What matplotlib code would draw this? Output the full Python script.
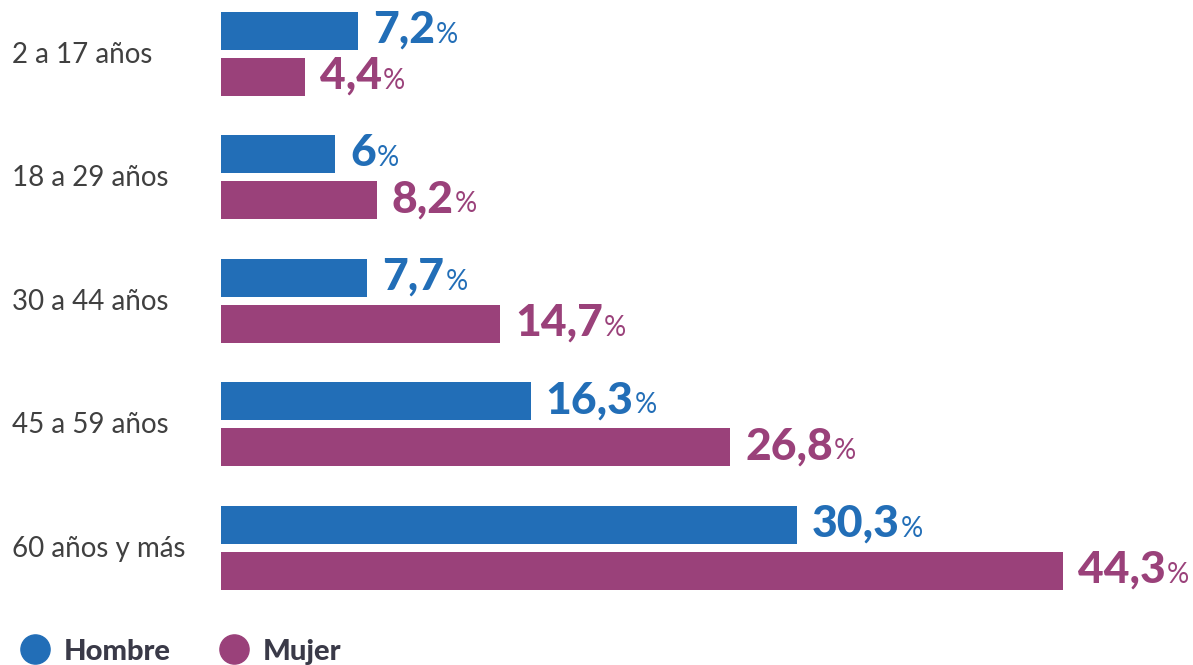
import numpy as np
import matplotlib
matplotlib.use('Agg')
import matplotlib.pyplot as plt
from matplotlib.lines import Line2D

plt.rcParams['font.family'] = ['Lato', 'DejaVu Sans']

# Datos: porcentaje por grupo de edad y sexo
grupos = ['2 a 17 años', '18 a 29 años', '30 a 44 años', '45 a 59 años', '60 años y más']
hombre = [7.2, 6.0, 7.7, 16.3, 30.3]
mujer = [4.4, 8.2, 14.7, 26.8, 44.3]
etiq_hombre = ['7,2', '6', '7,7', '16,3', '30,3']
etiq_mujer = ['4,4', '8,2', '14,7', '26,8', '44,3']

col_h = '#226eb7'
col_m = '#9a417a'
col_txt = '#404040'

fig = plt.figure(figsize=(11.93, 6.65), dpi=100)
ax = fig.add_axes([221 / 1193, 0, 1 - 221 / 1193, 1])
ax.set_xlim(0, 972 / 19.0)
ax.set_ylim((665 - 54) / 123.4, -54 / 123.4)
ax.axis('off')

y = np.arange(len(grupos))
off = 23 / 123.4
h = 38 / 123.4
ax.barh(y - off, hombre, height=h, color=col_h)
ax.barh(y + off, mujer, height=h, color=col_m)

renderer = fig.canvas.get_renderer()

def etiqueta(x, yy, txt, col):
    t = ax.annotate(txt, (x, yy), xytext=(15, -12), textcoords='offset pixels',
                    va='baseline', ha='left', fontsize=32, fontweight='black', color=col)
    w = t.get_window_extent(renderer).width
    ax.annotate('%', (x, yy), xytext=(15 + w + 1, -12), textcoords='offset pixels',
                va='baseline', ha='left', fontsize=20, fontweight='normal', color=col)

for i in range(len(grupos)):
    etiqueta(hombre[i], y[i] - off, etiq_hombre[i], col_h)
    etiqueta(mujer[i], y[i] + off, etiq_mujer[i], col_m)
    fig.text(12 / 1193, 1 - (55 + 123.4 * i) / 665, grupos[i], fontsize=20,
             color=col_txt, va='center', ha='left')

handles = [Line2D([], [], marker='o', ls='', markersize=21, color=col_h, label='Hombre'),
           Line2D([], [], marker='o', ls='', markersize=21, color=col_m, label='Mujer')]
leg = fig.legend(handles=handles, loc='lower left', bbox_to_anchor=(0.006, -0.017), ncol=2,
                 frameon=False, handletextpad=0.45, columnspacing=1.6, handlelength=1.1,
                 borderaxespad=0.0, prop={'size': 21, 'weight': 'black'})
for t in leg.get_texts():
    t.set_color('#3a3a48')

fig.savefig('out.png', dpi=100)
